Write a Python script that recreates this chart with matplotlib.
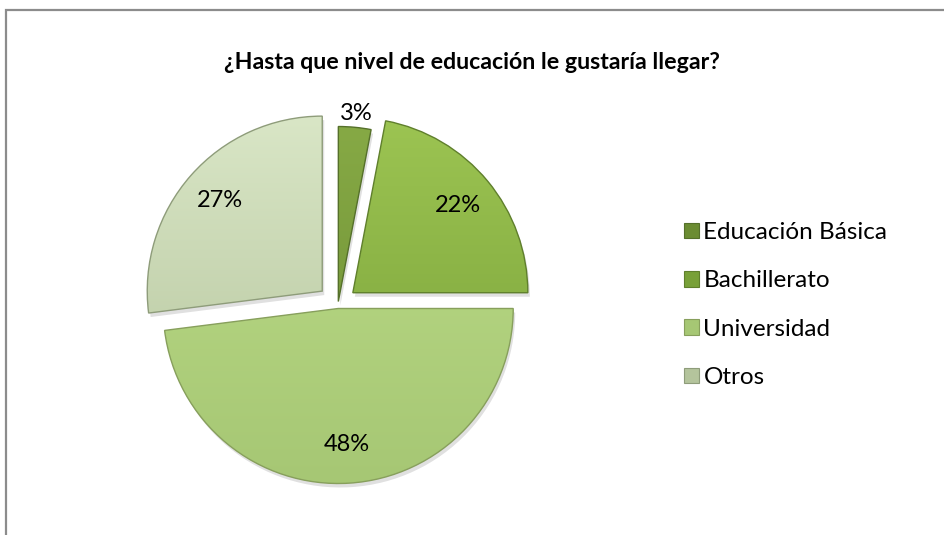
import matplotlib
matplotlib.use('Agg')
import matplotlib.pyplot as plt
import numpy as np
from matplotlib.colors import LinearSegmentedColormap
from matplotlib.patches import Patch, Rectangle, Wedge

plt.rcParams['font.family'] = ['Lato', 'DejaVu Sans']

title = '¿Hasta que nivel de educación le gustaría llegar?'
labels = ['Educación Básica', 'Bachillerato', 'Universidad', 'Otros']
values = [3, 22, 48, 27]
explode = [0.02, 0.11, 0.02, 0.12]

# (top, bottom) gradient colours for each slice
top_colors = ['#86a945', '#9cc452', '#bcdc88', '#d9e6c6']
bottom_colors = ['#6b8c32', '#78a038', '#a6c774', '#b4c49c']
edge_colors = ['#55702a', '#5f7f2c', '#879f5c', '#8e9c7a']

W, H = 944, 535
fig = plt.figure(figsize=(W / 100, H / 100), dpi=100)
ax = fig.add_axes([0, 0, 1, 1])

cx, cy, r = 338, H - 305, 175

# pie explode is in data units, so scale by radius
wedges, texts, autotexts = ax.pie(
    values, explode=[e * r for e in explode], startangle=90, counterclock=False,
    center=(cx, cy), radius=r, colors=top_colors,
    autopct='%1.0f%%', pctdistance=0.78,
    wedgeprops=dict(linewidth=1.0),
    textprops=dict(fontsize=17, color='black'))

ax.set_xlim(0, W)
ax.set_ylim(0, H)
ax.set_aspect('equal')
ax.axis('off')

grad = np.linspace(0, 1, 256).reshape(-1, 1)
for i, w in enumerate(wedges):
    w.set_edgecolor(edge_colors[i])
    w.set_zorder(3)
    # soft shadow
    sh = Wedge((w.center[0] + 2, w.center[1] - 4), w.r, w.theta1, w.theta2,
               facecolor='#000000', alpha=0.12, linewidth=0, zorder=1)
    ax.add_patch(sh)
    cmap = LinearSegmentedColormap.from_list('g%d' % i, [top_colors[i], bottom_colors[i]])
    x0, y0 = w.center[0] - w.r, w.center[1] - w.r
    im = ax.imshow(grad, cmap=cmap, aspect='auto',
                   extent=(x0, x0 + 2 * w.r, y0, y0 + 2 * w.r), zorder=2,
                   origin='upper')
    im.set_clip_path(w)
    w.set_facecolor('none')

# move the small slice's label outside
t1, t2 = wedges[0].theta1, wedges[0].theta2
mid = np.deg2rad((t1 + t2) / 2)
autotexts[0].set_position((cx + 1.1 * r * np.cos(mid), cy + 1.1 * r * np.sin(mid)))
for t in autotexts:
    t.set_zorder(5)
ax.set_xlim(0, W)
ax.set_ylim(0, H)

handles = [Patch(facecolor=bottom_colors[i], edgecolor=edge_colors[i], linewidth=0.8)
           for i in range(len(labels))]
leg = fig.legend(handles, labels, loc='center left',
                 bbox_to_anchor=(684 / W, 1 - 305 / H),
                 frameon=False, fontsize=17.5, handlelength=0.6, handleheight=0.6,
                 handletextpad=0.2, labelspacing=1.12, borderaxespad=0, borderpad=0)

fig.text(472 / W, 1 - 62 / H, title, ha='center', va='center',
         fontsize=16.7, fontweight='bold')

# chart border
fig.patches.append(Rectangle((6 / W, -0.1), 1.2, 1 - 10 / H + 0.1,
                             transform=fig.transFigure, fill=False,
                             edgecolor='#8c8c8c', linewidth=1.6))

fig.savefig('out.png', dpi=100, facecolor='white')
